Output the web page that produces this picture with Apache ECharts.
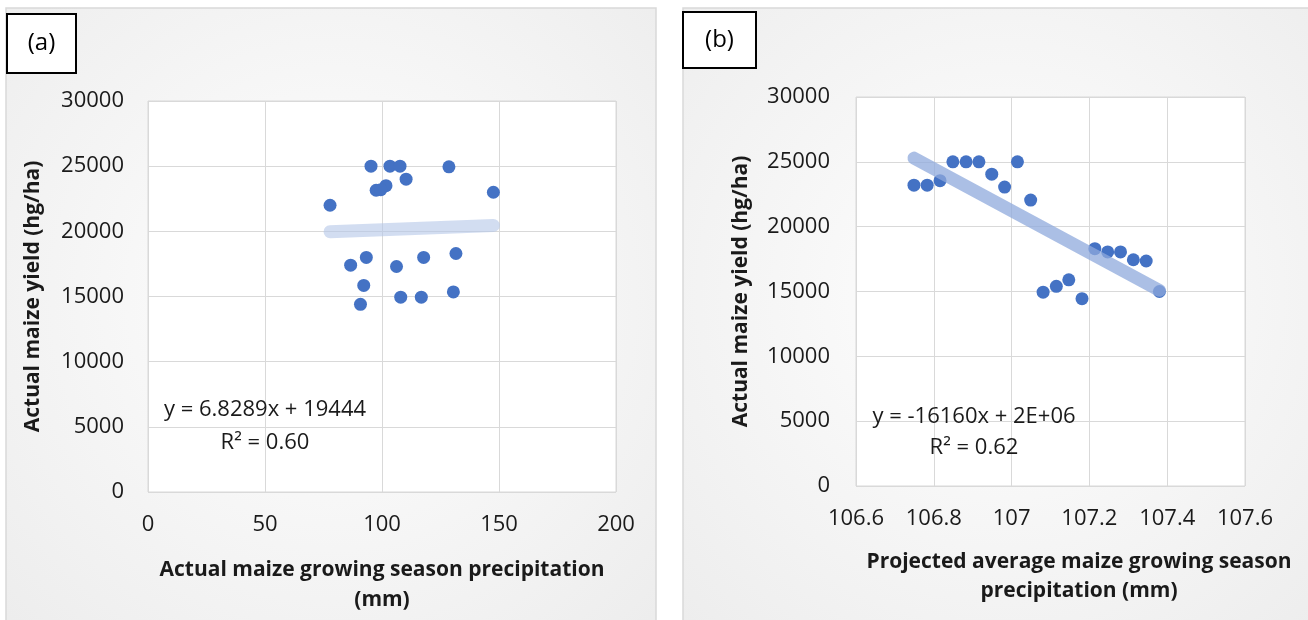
<!DOCTYPE html>
<html>
<head>
<meta charset="utf-8">
<script src="https://cdn.jsdelivr.net/npm/echarts@6/dist/echarts.min.js"></script>
<style>
  html, body { margin: 0; padding: 0; background: #fff; }
  #chart { width: 1308px; height: 620px; }
</style>
</head>
<body>
<div id="chart"></div>
<script>
// panel (a): actual precipitation vs actual yield
const actualPrecip = [95.3, 103.4, 107.7, 128.6, 110.3, 101.7, 97.5, 99.5, 77.8, 147.6,
                      93.3, 86.6, 106.2, 117.8, 131.6, 92.2, 90.8, 108, 116.8, 130.5]
const actualYieldA = [25000, 25000, 25000, 24950, 24000, 23500, 23150, 23200, 22000, 23000,
                      18000, 17400, 17300, 18000, 18300, 15850, 14400, 14950, 14950, 15350]
const trendA = { slope: 6.8289, intercept: 19444 }

// panel (b): projected precipitation vs actual yield
const projPrecip = [106.749, 106.783, 106.816, 106.849, 106.883, 106.916, 106.949, 106.982, 107.015, 107.049,
                    107.081, 107.115, 107.147, 107.181, 107.214, 107.247, 107.280, 107.313, 107.346, 107.380]
const actualYieldB = [23200, 23200, 23550, 25000, 25000, 25000, 24050, 23050, 25000, 22050,
                      14950, 15400, 15900, 14450, 18300, 18050, 18050, 17450, 17350, 15000]
const trendB = { slope: -16160, intercept: 1750349 }

const eqTextA = ['y = 6.8289x + 19444', 'R² = 0.60']
const eqTextB = ['y = -16160x + 2E+06', 'R² = 0.62']

const FONT = 'Open Sans'
const DOT = '#4472c4'

function pairs(xs, ys) {
  return xs.map((x, i) => [x, ys[i]])
}
function trendLine(xs, t) {
  const lo = Math.min(...xs), hi = Math.max(...xs)
  return [[lo, t.slope * lo + t.intercept], [hi, t.slope * hi + t.intercept]]
}

const tickStyle = { color: '#1a1a1a', fontSize: 22, fontFamily: FONT }
const nameStyle = { color: '#1a1a1a', fontSize: 21, fontWeight: 'bold', fontFamily: FONT, lineHeight: 30 }
const gridLine = { show: true, lineStyle: { color: '#d9d9d9', width: 1 } }
const plain = v => String(Math.round(v * 10) / 10)

function panelBg(x, w) {
  return {
    type: 'rect', z: -100,
    shape: { x: x, y: 8, width: w, height: 640 },
    style: {
      fill: {
        type: 'radial', x: 0.5, y: 0.45, r: 0.75,
        colorStops: [{ offset: 0, color: '#ffffff' }, { offset: 1, color: '#ececec' }]
      },
      stroke: '#d9d9d9', lineWidth: 1.5
    }
  }
}
function labelBox(x, y, w, h, txt) {
  return [
    { type: 'rect', z: 50, shape: { x: x, y: y, width: w, height: h },
      style: { fill: '#fff', stroke: '#000', lineWidth: 2 } },
    { type: 'text', z: 51, x: x + w / 2, y: y + h / 2,
      style: { text: txt, fontSize: 24, fontFamily: FONT, fill: '#000', align: 'center', verticalAlign: 'middle' } }
  ]
}
function eqText(cx, y1, y2, lines) {
  return [
    { type: 'text', z: 60, x: cx, y: y1,
      style: { text: lines[0], fontSize: 22, fontFamily: FONT, fill: '#1a1a1a', align: 'center', verticalAlign: 'middle' } },
    { type: 'text', z: 60, x: cx, y: y2,
      style: { text: lines[1], fontSize: 22, fontFamily: FONT, fill: '#1a1a1a', align: 'center', verticalAlign: 'middle' } }
  ]
}

const chart = echarts.init(document.getElementById('chart'), null, { renderer: 'canvas' })

chart.setOption({
  animation: false,
  backgroundColor: '#ffffff',
  graphic: [
    panelBg(6, 650),
    panelBg(683, 640),
    ...labelBox(7, 14, 69, 59, '(a)'),
    ...labelBox(683, 12, 73, 56, '(b)'),
    ...eqText(265, 410, 443, eqTextA),
    ...eqText(974, 417, 448, eqTextB)
  ],
  grid: [
    { left: 148, top: 101, width: 468, height: 397, show: true, backgroundColor: '#fff', borderColor: '#d9d9d9', borderWidth: 1 },
    { left: 856, top: 97, width: 389, height: 389, show: true, backgroundColor: '#fff', borderColor: '#d9d9d9', borderWidth: 1 }
  ],
  xAxis: [
    {
      gridIndex: 0, type: 'value', min: 0, max: 200, interval: 50,
      name: 'Actual maize growing season precipitation\n(mm)',
      nameLocation: 'middle', nameGap: 63, nameTextStyle: nameStyle,
      axisLine: { show: false }, axisTick: { show: false },
      axisLabel: Object.assign({ margin: 22, formatter: plain }, tickStyle),
      splitLine: gridLine
    },
    {
      gridIndex: 1, type: 'value', min: 106.6, max: 107.6, interval: 0.2,
      name: 'Projected average maize growing season\nprecipitation (mm)',
      nameLocation: 'middle', nameGap: 62,
      nameTextStyle: Object.assign({ padding: [0, 0, 0, 57] }, nameStyle, { lineHeight: 29 }),
      axisLine: { show: false }, axisTick: { show: false },
      axisLabel: Object.assign({ margin: 22, formatter: plain }, tickStyle),
      splitLine: gridLine
    }
  ],
  yAxis: [
    {
      gridIndex: 0, type: 'value', min: 0, max: 30000, interval: 5000,
      name: 'Actual maize yield (hg/ha)',
      nameLocation: 'middle', nameGap: 100, nameTextStyle: nameStyle,
      axisLine: { show: false }, axisTick: { show: false },
      axisLabel: Object.assign({ margin: 24, formatter: plain }, tickStyle),
      splitLine: gridLine
    },
    {
      gridIndex: 1, type: 'value', min: 0, max: 30000, interval: 5000,
      name: 'Actual maize yield (hg/ha)',
      nameLocation: 'middle', nameGap: 100, nameTextStyle: nameStyle,
      axisLine: { show: false }, axisTick: { show: false },
      axisLabel: Object.assign({ margin: 26, formatter: plain }, tickStyle),
      splitLine: gridLine
    }
  ],
  series: [
    {
      type: 'line', xAxisIndex: 0, yAxisIndex: 0, z: 3,
      data: trendLine(actualPrecip, trendA), symbol: 'none',
      lineStyle: { color: 'rgba(180,199,231,0.6)', width: 13, cap: 'round' }
    },
    {
      type: 'scatter', xAxisIndex: 0, yAxisIndex: 0, z: 2,
      data: pairs(actualPrecip, actualYieldA), symbolSize: 13,
      itemStyle: { color: DOT, opacity: 1 }
    },
    {
      type: 'line', xAxisIndex: 1, yAxisIndex: 1, z: 3,
      data: trendLine(projPrecip, trendB), symbol: 'none',
      lineStyle: { color: 'rgba(143,170,220,0.75)', width: 13, cap: 'round' }
    },
    {
      type: 'scatter', xAxisIndex: 1, yAxisIndex: 1, z: 2,
      data: pairs(projPrecip, actualYieldB), symbolSize: 13,
      itemStyle: { color: DOT, opacity: 1 }
    }
  ]
})
</script>
</body>
</html>
